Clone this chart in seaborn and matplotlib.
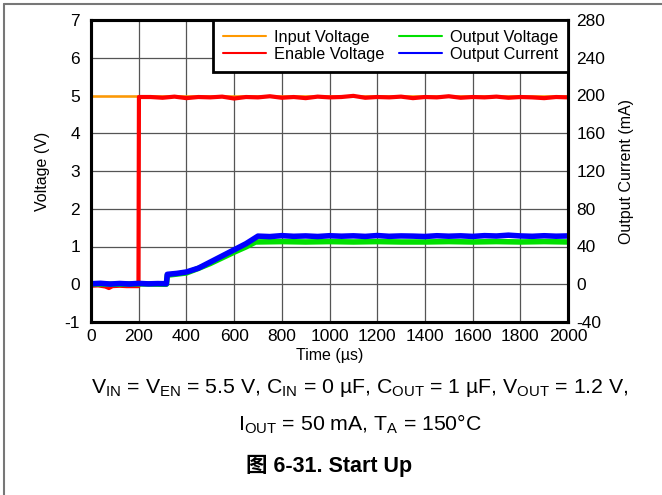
import numpy as np
import pandas as pd
import matplotlib
matplotlib.use("Agg")
import matplotlib.pyplot as plt
from matplotlib.lines import Line2D
import seaborn as sns

# traces (time in us)
t_in = [0, 2000]
v_in = [5.0, 5.0]

t_en = [0, 30, 60, 75, 90, 120, 150, 199, 201,
        250, 300, 350, 400, 450, 500, 550, 600, 650, 700, 750, 800, 850, 900,
        950, 1000, 1050, 1100, 1150, 1200, 1250, 1300, 1350, 1400, 1450, 1500,
        1550, 1600, 1650, 1700, 1750, 1800, 1850, 1900, 1950, 2000]
v_en = [-0.04, -0.03, -0.06, -0.1, -0.05, -0.04, -0.05, -0.05, 4.96,
        4.96, 4.94, 4.97, 4.93, 4.96, 4.95, 4.97, 4.92, 4.96, 4.95, 4.98, 4.94,
        4.96, 4.93, 4.97, 4.95, 4.96, 4.99, 4.94, 4.96, 4.95, 4.97, 4.93, 4.96,
        4.95, 4.98, 4.94, 4.96, 4.95, 4.97, 4.94, 4.96, 4.95, 4.93, 4.96, 4.95]

t_out = [0, 100, 200, 316, 320, 400, 450, 500, 550, 600, 650, 690,
         800, 900, 1000, 1100, 1200, 1300, 1400, 1500, 1600, 1700, 1800, 1900, 2000]
v_out = [0.01, 0.0, 0.01, 0.0, 0.24, 0.3, 0.42, 0.55, 0.7, 0.85, 0.99, 1.12,
         1.13, 1.12, 1.13, 1.12, 1.13, 1.12, 1.12, 1.13, 1.12, 1.13, 1.12, 1.13, 1.12]

t_cur = [0, 40, 80, 120, 160, 200, 240, 280, 316, 320, 360, 400, 450, 500,
         550, 600, 650, 700, 750, 800, 850, 900, 950, 1000, 1050, 1100, 1150,
         1200, 1250, 1300, 1350, 1400, 1450, 1500, 1550, 1600, 1650, 1700,
         1750, 1800, 1850, 1900, 1950, 2000]
i_cur = [0.5, 1.0, 0.2, 0.8, 0.3, 0.9, 0.4, 0.7, 0.5, 10.5, 11.5, 13.0, 17.0,
         23.5, 30.0, 36.5, 43.0, 51.0, 50.5, 51.5, 50.8, 51.2, 50.6, 51.4,
         50.9, 51.3, 50.7, 51.6, 50.8, 51.2, 51.0, 50.6, 51.4, 50.9, 51.3,
         50.7, 51.5, 51.1, 52.0, 51.2, 50.8, 51.4, 50.9, 51.2]

x_ticks = list(range(0, 2001, 200))
v_ticks = list(range(-1, 8))
i_ticks = list(range(-40, 281, 40))

sns.set_style("white")
plt.rcParams["font.family"] = ["Liberation Sans", "Noto Sans CJK SC", "DejaVu Sans"]
plt.rcParams["axes.unicode_minus"] = False
plt.rcParams["mathtext.fontset"] = "custom"
plt.rcParams["mathtext.rm"] = "Liberation Sans"
plt.rcParams["mathtext.it"] = "Liberation Sans:italic"
for k in ("text.color", "axes.labelcolor", "xtick.color", "ytick.color"):
    plt.rcParams[k] = "black"

fig = plt.figure(figsize=(6.62, 4.95), dpi=100)
ax = fig.add_axes([91 / 662, 1 - 322 / 495, 477 / 662, 302 / 495])
ax2 = ax.twinx()

orange, red, green, blue = "#FF9900", "#FF0000", "#00E000", "#0000FF"

sns.lineplot(x=t_in, y=v_in, ax=ax, color=orange, lw=1.8, sort=False, estimator=None)
sns.lineplot(x=t_en, y=v_en, ax=ax, color=red, lw=3, sort=False, estimator=None)
sns.lineplot(x=t_out, y=v_out, ax=ax, color=green, lw=4, sort=False, estimator=None)
sns.lineplot(x=t_cur, y=i_cur, ax=ax2, color=blue, lw=4, sort=False, estimator=None)

ax.set_xlim(0, 2000)
ax.set_ylim(-1, 7)
ax2.set_ylim(-40, 280)
ax.set_xticks(x_ticks)
ax.set_yticks(v_ticks)
ax2.set_yticks(i_ticks)
ax.grid(True, color="#555555", lw=0.9)
ax2.grid(False)
ax.tick_params(axis="x", length=0, labelsize=12.5, pad=5)
ax.tick_params(axis="y", length=0, labelsize=12.5, pad=8)
ax2.tick_params(length=0, labelsize=12.5, pad=6)
ax.set_xlabel("Time (µs)", fontsize=11.5, labelpad=3)
ax.set_ylabel("Voltage (V)", fontsize=11.5, labelpad=10)
ax2.set_ylabel("Output Current (mA)", fontsize=11.5, labelpad=10)
for a in (ax, ax2):
    for s in a.spines.values():
        s.set_color("black")
        s.set_linewidth(2.2)

handles = [Line2D([], [], color=orange, lw=1.5), Line2D([], [], color=red, lw=1.5),
           Line2D([], [], color=green, lw=1.5), Line2D([], [], color=blue, lw=1.5)]
labels = ["Input Voltage", "Enable Voltage", "Output Voltage", "Output Current"]
leg = ax2.legend(handles, labels, ncol=2, loc="upper right", borderaxespad=0,
                 fontsize=11.8, frameon=True, fancybox=False, handlelength=2.6,
                 labelspacing=0.12, columnspacing=0.9, handletextpad=0.5,
                 borderpad=0.6)
leg.get_frame().set_edgecolor("black")
leg.get_frame().set_linewidth(2)
leg.get_frame().set_alpha(1)

fig.text(0.544, 0.216,
         r"V$_{\mathrm{IN}}$ = V$_{\mathrm{EN}}$ = 5.5 V, C$_{\mathrm{IN}}$ = 0 µF, "
         r"C$_{\mathrm{OUT}}$ = 1 µF, V$_{\mathrm{OUT}}$ = 1.2 V,",
         ha="center", va="center", fontsize=15.3)
fig.text(0.544, 0.143, r"I$_{\mathrm{OUT}}$ = 50 mA, T$_{\mathrm{A}}$ = 150°C",
         ha="center", va="center", fontsize=15.3)
fig.text(0.497, 0.059, "图 6-31. Start Up", ha="center", va="center",
         fontsize=15.5, fontweight="bold")

# outer frame, only top and left edges fall inside the picture
fig.add_artist(Line2D([3.5 / 662, 1], [1 - 3.5 / 495, 1 - 3.5 / 495],
                      transform=fig.transFigure, color="#777777", lw=1.5))
fig.add_artist(Line2D([3.5 / 662, 3.5 / 662], [0, 1 - 3.5 / 495],
                      transform=fig.transFigure, color="#777777", lw=1.5))

fig.savefig("out.png", dpi=100)
